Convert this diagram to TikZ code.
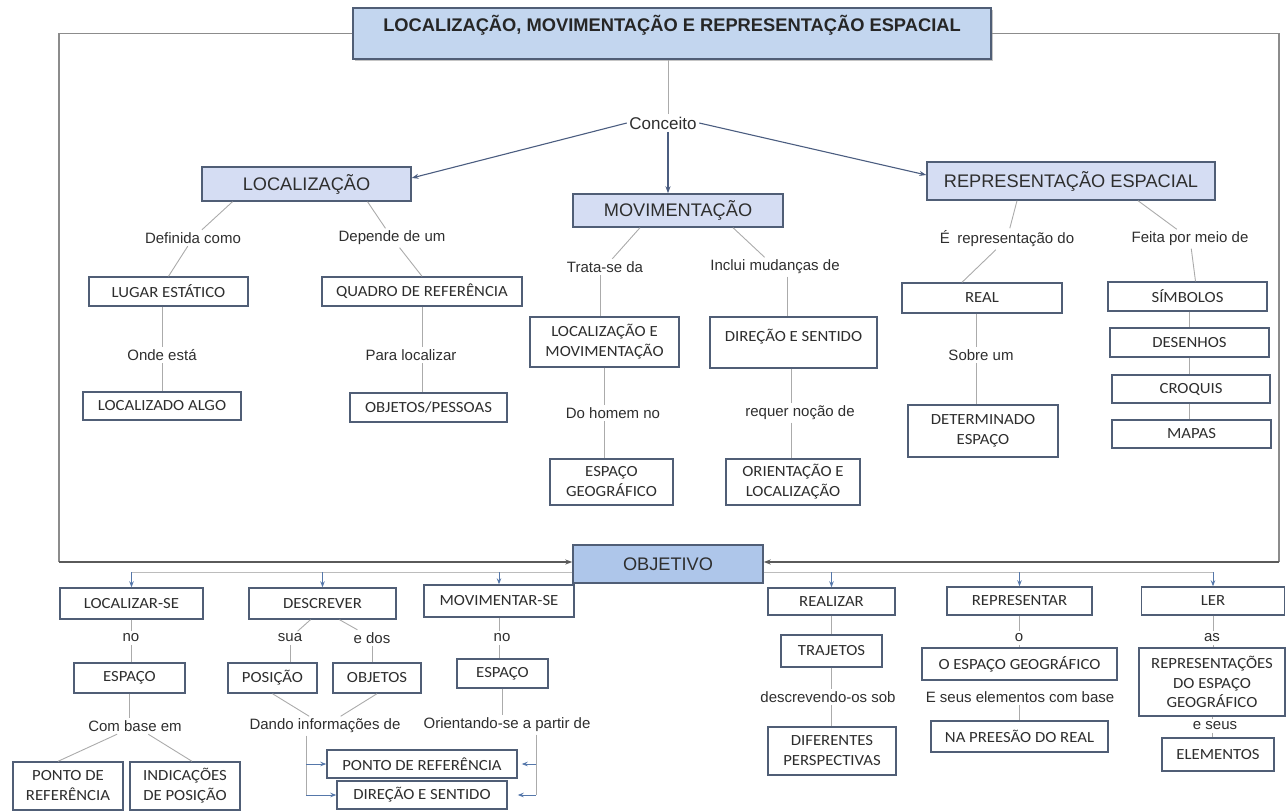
\documentclass[tikz,border=0pt]{standalone}
\usepackage{fontspec}
\setmainfont{Liberation Sans}
\newfontfamily\calfont{Carlito}[FakeStretch=1.08]
\usetikzlibrary{arrows.meta,shadows}
\definecolor{boxline}{HTML}{505E76}
\definecolor{txt}{HTML}{2E2E2E}
\definecolor{mainfill}{HTML}{D5DDF3}
\definecolor{titlefill}{HTML}{C3D6EF}
\definecolor{objfill}{HTML}{AEC6EA}
\definecolor{linkc}{HTML}{ABABAB}
\definecolor{arrc}{HTML}{4B5D80}
\definecolor{arrc2}{HTML}{5577AA}
\definecolor{framec}{HTML}{8C8C8C}
\definecolor{framed}{HTML}{5A5A5A}
\begin{document}
\begin{tikzpicture}[x=1pt,y=-1pt,
  cbox/.style={draw=boxline, line width=1.4pt, fill=white, text=txt, align=center, inner sep=0pt,
    font={\calfont\fontsize{15.5}{20}\selectfont}},
  mbox/.style={cbox, fill=mainfill, font={\fontsize{18.2}{21}\selectfont}},
  titlebox/.style={draw=boxline, line width=1.5pt, fill=titlefill, text=black!85,
    font={\bfseries\fontsize{18.3}{21}\selectfont}, minimum width=638pt, minimum height=51pt,
    text height=17.5pt, text depth=21.5pt, inner ysep=6pt, inner xsep=0pt,
    drop shadow={shadow xshift=1.5pt, shadow yshift=-1.5pt, fill=black!45}},
  lbl/.style={font={\fontsize{15}{17}\selectfont}, text=txt, inner sep=2.5pt},
  link/.style={draw=linkc, line width=0.9pt},
  arr/.style={draw=arrc, line width=1.1pt, -{Stealth[length=7pt,width=5pt]}},
  sarr/.style={draw=arrc2, line width=1pt, -{Stealth[length=6pt,width=4.5pt]}},
  frame/.style={draw=framec, line width=1.2pt},
  framebot/.style={draw=framed, line width=1.4pt, -{Stealth[length=7pt,width=5pt]}},
  faint/.style={draw=linkc!80, line width=0.9pt}
]
\useasboundingbox (0,0) rectangle (1287,811);

% ---------- title and concept ----------
\node[titlebox] (title) at (672,33.5) {LOCALIZAÇÃO, MOVIMENTAÇÃO E REPRESENTAÇÃO ESPACIAL};
\node[lbl, font={\fontsize{17}{19}\selectfont}] (conc) at (663,123) {Conceito};
\node[mbox, minimum width=209pt, minimum height=34pt] (loc) at (306.5,184) {LOCALIZAÇÃO};
\node[mbox, minimum width=210pt, minimum height=33pt] (mov) at (678,210.5) {MOVIMENTAÇÃO};
\node[mbox, minimum width=288pt, minimum height=38pt] (rep) at (1071,181) {REPRESENTAÇÃO ESPACIAL};
\node[mbox, fill=objfill, minimum width=190pt, minimum height=38pt] (obj) at (668,564) {OBJETIVO};

\draw[link] ([xshift=5pt]conc.north) -- ([xshift=5pt]conc.north |- title.south);
\draw[arr] (conc.west) -- ([yshift=6pt]loc.east);
\draw[arr] ([xshift=5pt]conc.south) -- ([xshift=5pt]conc.south |- mov.north);
\draw[arr] (conc.east) -- ([yshift=6pt]rep.west);

% ---------- frame ----------
\coordinate (fl1) at (59,33.5);
\coordinate (fl2) at (59,562);
\coordinate (fr1) at (1279,33.5);
\coordinate (fr2) at (1279,562);
\draw[frame] (title.west) -- (fl1) -- (fl2);
\draw[frame] (title.east) -- (fr1) -- (fr2);
\draw[framebot] (fl2) -- (fl2 -| obj.west);
\draw[framebot] (fr2) -- (fr2 -| obj.east);

% ---------- LOCALIZACAO branch ----------
\node[lbl] (defcomo) at (193,238) {Definida como};
\node[lbl] (depende) at (392,238) {Depende de um};
\node[cbox, minimum width=159pt, minimum height=29pt] (lugar) at (168.5,291.5) {LUGAR ESTÁTICO};
\node[lbl] (onde) at (162,355) {Onde está};
\node[cbox, minimum width=158pt, minimum height=28pt] (localizado) at (162,406) {LOCALIZADO ALGO};
\node[cbox, minimum width=200pt, minimum height=29pt] (quadro) at (422,291.5) {QUADRO DE REFERÊNCIA};
\node[lbl] (paraloc) at (411,355) {Para localizar};
\node[cbox, minimum width=157pt, minimum height=29pt] (objpess) at (428.5,407.5) {OBJETOS/PESSOAS};

\draw[link] ([xshift=-74pt]loc.south) -- (defcomo);
\draw[link] (defcomo) -- (lugar.north);
\draw[link] ([xshift=61pt]loc.south) -- (depende);
\draw[link] (depende) -- (quadro.north);
\draw[link] (localizado.north |- lugar.south) -- (localizado.north |- onde.north);
\draw[link] (localizado.north |- onde.south) -- (localizado.north);
\draw[link] (quadro.south) -- (quadro.south |- paraloc.north);
\draw[link] (quadro.south |- paraloc.south) -- (quadro.south |- objpess.north);

% ---------- MOVIMENTACAO branch ----------
\node[lbl] (trata) at (605,267) {Trata-se da};
\node[lbl] (inclui) at (775,267) {Inclui mudanças de};
\node[cbox, minimum width=149pt, minimum height=50pt] (locmov) at (604.5,342) {LOCALIZAÇÃO E\\MOVIMENTAÇÃO};
\node[cbox, minimum width=167pt, minimum height=51pt, text height=11pt, text depth=14pt] (dirsen) at (793.5,342.5) {DIREÇÃO E SENTIDO};
\node[lbl] (dohomem) at (613,413) {Do homem no};
\node[lbl] (requer) at (800,413) {requer noção de};
\node[cbox, minimum width=123pt, minimum height=46pt] (espgeo) at (611.5,482) {ESPAÇO\\GEOGRÁFICO};
\node[cbox, minimum width=134pt, minimum height=46pt] (orient) at (793,482) {ORIENTAÇÃO E\\LOCALIZAÇÃO};

\draw[link] ([xshift=-38pt]mov.south) -- (trata);
\draw[link] ([xshift=-4pt]locmov.north |- trata.south) -- ([xshift=-4pt]locmov.north);
\draw[link] ([xshift=55pt]mov.south) -- (inclui);
\draw[link] ([xshift=-6pt]dirsen.north |- inclui.south) -- ([xshift=-6pt]dirsen.north);
\draw[link] (locmov.south) -- (locmov.south |- dohomem.north);
\draw[link] (locmov.south |- dohomem.south) -- (locmov.south |- espgeo.north);
\draw[link] ([xshift=-2pt]dirsen.south) -- ([xshift=-2pt]dirsen.south |- requer.north);
\draw[link] ([xshift=-2pt]dirsen.south |- requer.south) -- ([xshift=-2pt]dirsen.south |- orient.north);

% ---------- REPRESENTACAO branch ----------
\node[lbl] (erep) at (1007,239) {É\enspace representação do};
\node[lbl] (feita) at (1190,239) {Feita por meio de};
\node[cbox, minimum width=160pt, minimum height=30pt] (real) at (982,298) {REAL};
\node[lbl] (sobre) at (981,355) {Sobre um};
\node[cbox, minimum width=150pt, minimum height=52pt] (determ) at (983,431) {DETERMINADO\\ESPAÇO};
\node[cbox, minimum width=159pt, minimum height=29pt] (simbolos) at (1187.5,296.5) {SÍMBOLOS};
\node[cbox, minimum width=159pt, minimum height=29pt] (desenhos) at (1189.5,342.5) {DESENHOS};
\node[cbox, minimum width=158pt, minimum height=28pt] (croquis) at (1191,389) {CROQUIS};
\node[cbox, minimum width=159pt, minimum height=28pt] (mapas) at (1191.5,434) {MAPAS};

\draw[link] ([xshift=-54pt]rep.south) -- (erep);
\draw[link] (erep) -- ([xshift=-20pt]real.north);
\draw[link] ([xshift=67pt]rep.south) -- (feita);
\draw[link] (feita) -- ([xshift=8pt]simbolos.north);
\draw[link] ([xshift=-6pt]real.south) -- ([xshift=-6pt]real.south |- sobre.north);
\draw[link] ([xshift=-6pt]real.south |- sobre.south) -- ([xshift=-6pt]real.south |- determ.north);
\draw[link] (desenhos.north |- simbolos.south) -- (desenhos.north);
\draw[link] (desenhos.south) -- (desenhos.south |- croquis.north);
\draw[link] (desenhos.south |- croquis.south) -- (desenhos.south |- mapas.north);

% ---------- OBJETIVO sub-items ----------
\node[cbox, minimum width=143pt, minimum height=31pt] (lsel) at (131.5,603.5) {LOCALIZAR-SE};
\node[cbox, minimum width=147pt, minimum height=31pt] (desc) at (322.5,603.5) {DESCREVER};
\node[cbox, minimum width=150pt, minimum height=32pt] (movse) at (499,601) {MOVIMENTAR-SE};
\node[cbox, minimum width=127pt, minimum height=27pt] (realizar) at (831.5,601.5) {REALIZAR};
\node[cbox, minimum width=145pt, minimum height=28pt] (repr) at (1019.5,601) {REPRESENTAR};
\node[cbox, minimum width=143pt, minimum height=28pt] (ler) at (1213,601) {LER};

\coordinate (hl) at (0,572);
\draw[faint] (obj.west |- hl) -- (lsel.north |- hl);
\draw[faint] (obj.east |- hl) -- (ler.north |- hl);
\foreach \n in {lsel,desc,movse,realizar,repr,ler}
  \draw[sarr] (\n.north |- hl) -- (\n.north);

% labels row
\node[lbl] (no1) at (131,638) {no};
\node[lbl] (sua) at (290,638) {sua};
\node[lbl] (edos) at (372,638) {e dos};
\node[lbl] (no2) at (502,638) {no};
\node[lbl] (ao) at (1019,638) {o};
\node[lbl] (as) at (1212,638) {as};

% boxes row 3
\node[cbox, minimum width=111pt, minimum height=30pt] (esp1) at (129.5,678) {ESPAÇO};
\node[cbox, minimum width=89pt, minimum height=30pt] (posicao) at (272.5,678) {POSIÇÃO};
\node[cbox, minimum width=88pt, minimum height=30pt] (objetos) at (377,678) {OBJETOS};
\node[cbox, minimum width=91pt, minimum height=29pt] (esp2) at (502.5,673.5) {ESPAÇO};
\node[cbox, minimum width=101pt, minimum height=32pt] (trajetos) at (831.5,651) {TRAJETOS};
\node[cbox, minimum width=195pt, minimum height=32pt] (oesp) at (1019.5,664) {O ESPAÇO GEOGRÁFICO};
\node[cbox, minimum width=146pt, minimum height=68pt, font={\calfont\fontsize{15.5}{19.5}\selectfont}] (reprs) at (1212,682) {REPRESENTAÇÕES\\DO ESPAÇO\\GEOGRÁFICO};

% labels row 4
\node[lbl] (combase) at (135,726) {Com base em};
\node[lbl] (dando) at (325,726) {Dando informações de};
\node[lbl] (orientlbl) at (507,725) {Orientando-se a partir de};
\node[lbl] (descrev) at (828,697) {descrevendo-os sob};
\node[lbl] (eselem) at (1020,697) {E seus elementos com base};
\node[lbl] (eseus) at (1215,726) {e seus};

% boxes row 5
\node[cbox, minimum width=110pt, minimum height=48pt] (pref1) at (68,786) {PONTO DE\\REFERÊNCIA};
\node[cbox, minimum width=110pt, minimum height=48pt] (indic) at (185,786) {INDICAÇÕES\\DE POSIÇÃO};
\node[cbox, minimum width=190pt, minimum height=28pt] (pref2) at (422,764) {PONTO DE REFERÊNCIA};
\node[cbox, minimum width=170pt, minimum height=28pt] (dirsen2) at (422,795) {DIREÇÃO E SENTIDO};
\node[cbox, minimum width=128pt, minimum height=48pt] (difer) at (832,751) {DIFERENTES\\PERSPECTIVAS};
\node[cbox, minimum width=177pt, minimum height=31pt] (napre) at (1019.5,736.5) {NA PREESÃO DO REAL};
\node[cbox, minimum width=112pt, minimum height=33pt] (elem) at (1218,754.5) {ELEMENTOS};

% connectors bottom
\draw[link] (lsel.south) -- (lsel.south |- no1.north);
\draw[link] (lsel.south |- no1.south) -- (lsel.south |- esp1.north);
\draw[link] ([xshift=-12pt]desc.south) -- (sua);
\draw[link] ([xshift=17pt]desc.south) -- (edos);
\draw[link] (sua) -- (sua |- posicao.north);
\draw[link] (edos) -- (edos |- objetos.north);
\draw[link] (posicao.south) -- (dando);
\draw[link] (objetos.south) -- (dando);
\draw[link] (esp1.south) -- (esp1.south |- combase.north);
\draw[link] (combase) -- ([xshift=-10pt]pref1.north);
\draw[link] (combase) -- ([xshift=7pt]indic.north);

\coordinate (dv) at (306,0);
\draw[link] (dv |- dando.south) -- (dv |- dirsen2.west);
\draw[sarr] (dv |- pref2.west) -- (pref2.west);
\draw[sarr] (dv |- dirsen2.west) -- (dirsen2.west);

\draw[link] (movse.south) -- (movse.south |- no2.north);
\draw[link] (movse.south |- no2.south) -- (movse.south |- esp2.north);
\draw[link] (esp2.south) -- (esp2.south |- orientlbl.north);
\coordinate (ov) at (536,0);
\draw[link] (ov |- orientlbl.south) -- (ov |- dirsen2.east);
\draw[sarr, shorten >=4pt] (ov |- pref2.east) -- (pref2.east);
\draw[sarr, shorten >=10pt] (ov |- dirsen2.east) -- (dirsen2.east);

\draw[link] (realizar.south) -- (trajetos.north);
\draw[link] (trajetos.south) -- (trajetos.south |- descrev.north);
\draw[link] (trajetos.south |- descrev.south) -- (trajetos.south |- difer.north);

\draw[link] (repr.south) -- (repr.south |- ao.north);
\draw[link] (repr.south |- ao.south) -- (repr.south |- oesp.north);
\draw[link] (oesp.south |- eselem.south) -- (oesp.south |- napre.north);

\draw[link] (ler.south) -- (ler.south |- as.north);
\draw[link] (ler.south |- as.south) -- (ler.south |- reprs.north);
\draw[link] (reprs.south) -- (reprs.south |- eseus.north);
\draw[link] (reprs.south |- eseus.south) -- (reprs.south |- elem.north);
\end{tikzpicture}
\end{document}
